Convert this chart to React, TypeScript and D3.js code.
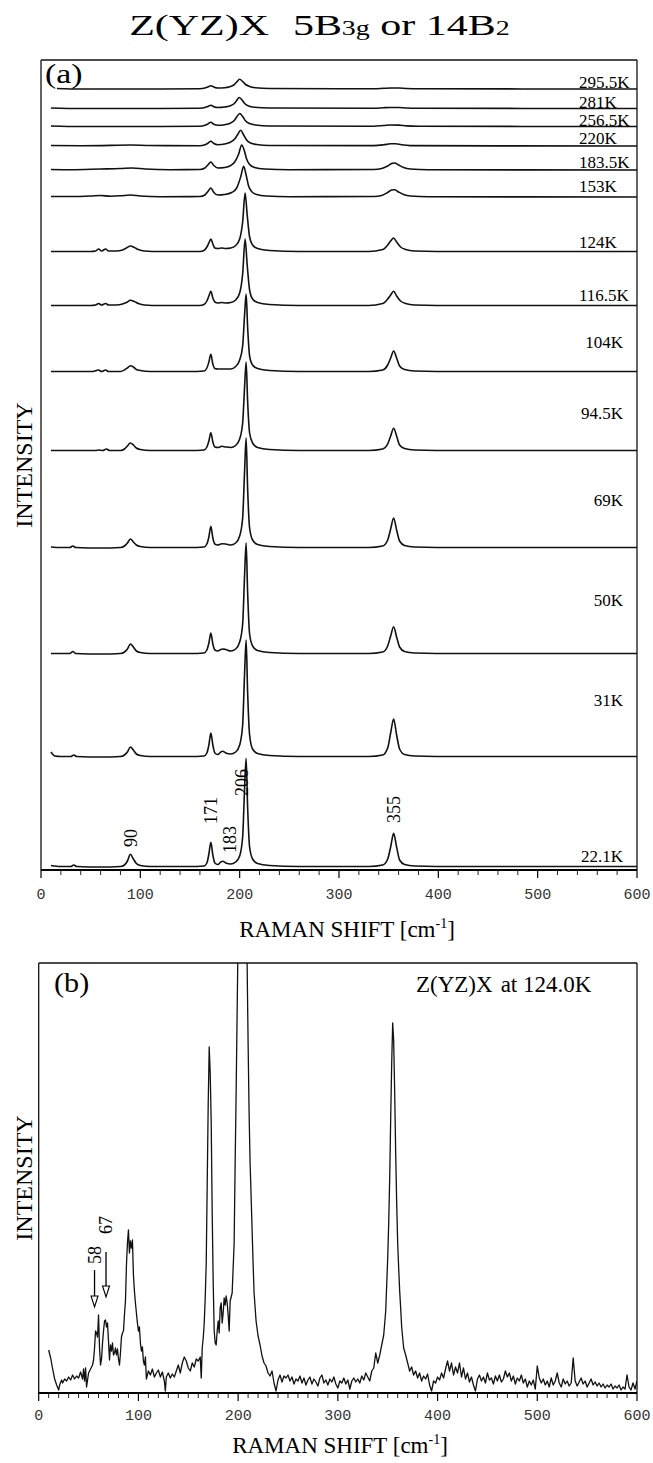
import React from "react";
import * as d3 from "d3";

type Pt = [number, number];

// ---------- Panel (a): temperature series ----------
const temperatureLabels = [
  "295.5K", "281K", "256.5K", "220K", "183.5K", "153K", "124K",
  "116.5K", "104K", "94.5K", "69K", "50K", "31K", "22.1K",
];
// vertical stacking offset of each spectrum (intensity units)
const traceOffsets = [781, 761.5, 743.5, 724, 700, 673, 618, 564, 498, 419, 322, 216, 113, 3];

// spectra as [Raman shift (cm-1), intensity above own offset]
const spec295_5K: Pt[] = [[16,0.5],[40,0],[80,0],[120,0],[160,0.3],[165,1],[168,2],[171,3.3],[174,2],[178,1],[185,1.3],[190,2.3],[194,4],[197,7],[200,9.7],[203,7.5],[206,4.5],[210,2.5],[216,1.3],[230,0.5],[300,0.3],[335,0.3],[345,0.7],[352,1],[360,1],[368,0.5],[380,0.2],[600,0]];
const spec281K: Pt[] = [[10,0.5],[40,0],[120,0],[160,0.3],[165,1],[168,2],[171,3.3],[174,1.8],[178,1],[185,1.5],[190,2.5],[194,4.5],[197,8],[199.5,11],[202,9],[205,5],[209,2.5],[215,1.3],[230,0.5],[335,0.3],[345,0.8],[352,1],[360,1],[368,0.5],[380,0.2],[600,0]];
const spec256_5K: Pt[] = [[10,0.5],[40,0],[120,0],[160,0.3],[165,1.2],[168,2.5],[171,4.3],[174,2.2],[178,1.2],[185,1.8],[190,3],[194,5.5],[197,9.5],[200,13],[203,10],[206,5.5],[210,3],[216,1.5],[230,0.5],[335,0.3],[345,1],[352,1.5],[360,1.4],[368,0.6],[380,0.2],[600,0]];
const spec220K: Pt[] = [[10,0.5],[40,0.3],[70,0.6],[90,1],[110,0.5],[160,0.3],[165,1.3],[168,2.8],[171,4.7],[174,2.5],[178,1.3],[185,2],[190,3.5],[195,7],[198,11.5],[201,15.7],[204,11],[207,6],[211,3],[217,1.5],[230,0.5],[335,0.4],[345,1.2],[352,2.2],[357,2.3],[363,1.2],[372,0.4],[600,0]];
const spec183_5K: Pt[] = [[10,0.5],[30,0.3],[60,1],[80,1.5],[92,2],[105,1],[130,0.3],[160,0.5],[165,2],[168,5],[171,8],[174,4.5],[178,2],[185,2.5],[191,4.5],[195,8],[199,16],[202,25],[204.5,20],[207,11],[210,5.5],[215,2.5],[225,1],[250,0.3],[335,0.5],[343,1.5],[349,4],[353,6.5],[356,7],[360,5],[365,2.5],[372,1],[390,0.3],[600,0]];
const spec153K: Pt[] = [[10,0.5],[30,0.5],[50,1],[60,1.5],[70,0.8],[80,1.2],[90,2],[100,1],[120,0.3],[160,0.5],[165,2],[168,5.5],[171,9],[174,4.5],[178,2],[185,2.5],[192,4.5],[197,9],[201,20],[204,30.7],[206.5,22],[209,11],[212,5.5],[217,2.5],[227,1],[250,0.3],[335,0.5],[343,1.5],[349,4.5],[353,7],[356,7.3],[360,5],[365,2.5],[372,1],[390,0.3],[600,0]];
const spec124K: Pt[] = [[10,0.5],[30,0.5],[50,0.5],[55,1],[58,3],[61,1],[65,3],[68,1],[76,1],[82,2],[86,4],[90,6],[94,4.5],[98,2.5],[104,1],[120,0.5],[160,0.5],[164,1.5],[167,5],[169,9],[171,13],[173,8],[175,4],[178,3.5],[182,4],[186,3.5],[191,4],[196,6.5],[200,13],[203,30],[205.5,59],[207.5,38],[210,15],[213,7],[218,3.5],[230,1.5],[260,0.5],[330,0.5],[344,2.5],[349,7],[352,11],[355,14],[358,10],[362,5],[367,2.5],[376,1],[420,0.5],[600,0.5]];
const spec116_5K: Pt[] = [[10,0.5],[30,0.5],[50,0.5],[55,1],[58,2.5],[61,1],[65,2.5],[68,1],[76,1],[82,2],[86,3.5],[90,5.7],[94,4.5],[98,2.5],[104,1],[120,0.5],[160,0.5],[164,1.5],[167,5],[169,10],[171,14.7],[173,8],[175,4],[178,3],[182,3.5],[186,3],[191,3.5],[196,6],[200,13],[203,32],[205.5,67],[207.5,42],[210,16],[213,7],[218,3.5],[230,1.5],[260,0.5],[330,0.5],[344,2.5],[349,7],[352,11],[355,14.7],[358,10],[362,5],[367,2.5],[376,1],[420,0.5],[600,0.5]];
const spec104K: Pt[] = [[10,0.5],[30,0.5],[52,0.5],[58,2],[61,0.5],[65,2],[68,0.5],[80,0.5],[84,2],[87,4],[90,6.3],[93,5],[96,2.5],[100,1.5],[110,0.5],[150,0.5],[164,1],[167,4],[169,10],[171,17.7],[173,8],[175,3.5],[178,3],[182,3],[186,3],[191,3],[196,5.5],[200,12],[203,26],[205,58],[206.5,78],[208,45],[210,16],[213,7],[218,3.5],[230,1.5],[260,0.5],[330,0.5],[344,2],[349,7],[352,14],[355,21],[358,14],[361,6],[366,2.5],[376,1],[420,0.5],[600,0.5]];
const spec94_5K: Pt[] = [[10,0.5],[30,0.5],[55,0.5],[58,1],[62,0.5],[66,2],[69,0.5],[80,0.5],[84,2],[87,5],[90,8],[93,6],[96,3],[100,1.5],[110,0.5],[150,0.5],[164,1],[167,4],[169,10],[171,18.3],[173,9],[175,4],[178,3.5],[182,4.7],[186,4],[191,3.5],[196,5.5],[200,12],[203,28],[205,65],[206.5,89],[208,50],[210,18],[213,8],[218,3.5],[230,1.5],[260,0.5],[330,0.5],[344,2],[349,7],[352,15],[355,22.7],[358,15],[361,6],[366,2.5],[376,1],[420,0.5],[600,0.5]];
const spec69K: Pt[] = [[10,1],[20,0.5],[29,0.5],[32,2],[35,0.5],[60,0],[80,0.5],[84,2],[87,5],[90,9],[93,6],[96,3],[100,1.5],[110,0.5],[150,0.5],[164,1],[167,4],[169,11],[171,21.7],[173,10],[175,4],[178,3],[181,4],[183,4.3],[186,4],[191,3],[196,5],[200,12],[203,30],[205,78],[206.5,110],[208,60],[210,20],[213,8],[218,3.5],[230,1.5],[260,0.5],[330,0.5],[344,2],[349,8],[352,19],[355,30],[358,18],[361,7],[366,2.5],[376,1],[420,0.5],[600,0.5]];
const spec50K: Pt[] = [[10,0.5],[20,0.5],[29,0.5],[32,2.5],[35,0.5],[60,0],[80,0.5],[84,2],[87,5],[90,10],[93,7],[96,3],[100,1.5],[110,0.5],[150,0.5],[164,1],[167,4],[169,11],[171,21],[173,10],[175,4],[178,3],[181,4.5],[183,5],[186,4.5],[191,3],[196,5],[200,12],[203,30],[205,80],[206.5,111],[208,62],[210,20],[213,8],[218,3.5],[230,1.5],[260,0.5],[330,0.5],[344,2],[349,8],[352,18],[355,27.3],[358,17],[361,7],[366,2.5],[376,1],[420,0.5],[600,0.5]];
const spec31K: Pt[] = [[10,5],[14,1],[20,0.5],[30,0.5],[33,2],[36,0.5],[60,0],[80,0.5],[84,2],[87,5],[90,10],[93,7],[96,3],[100,1.5],[110,0.5],[150,0.5],[164,1],[167,4],[169,12],[171,24],[173,12],[175,4],[178,2.5],[181,5],[183,5.7],[186,4],[191,3],[196,5],[200,12],[203,32],[205,85],[206.5,117],[208,65],[210,22],[213,8],[218,3.5],[230,1.5],[260,0.5],[330,0.5],[344,2],[349,9],[352,24],[355,38],[358,22],[361,8],[366,2.5],[376,1],[420,0.5],[600,0.5]];
const spec22_1K: Pt[] = [[10,1.5],[20,0.5],[30,0.5],[33,2],[36,0.5],[60,0],[80,0.5],[84,2],[87,6],[90,12.7],[93,8],[96,3.5],[100,1.5],[110,0.5],[150,0.5],[164,1],[167,4],[169,13],[171,24.7],[173,12],[175,4],[178,2.5],[181,5],[183,5.7],[186,4],[191,3],[196,5],[200,11],[203,30],[205,80],[206.5,108.7],[208,60],[210,20],[213,8],[218,3.5],[230,1.5],[260,0.5],[330,0.5],[344,2],[349,8],[352,20],[355,33.7],[358,20],[361,7],[366,2.5],[376,1],[420,0.5],[600,0.5]];

const spectraA: Pt[][] = [
  spec295_5K, spec281K, spec256_5K, spec220K, spec183_5K, spec153K, spec124K,
  spec116_5K, spec104K, spec94_5K, spec69K, spec50K, spec31K, spec22_1K,
];

// assigned mode frequencies marked on the lowest spectrum
const modeLabels = [90, 171, 183, 206, 355];

// ---------- Panel (b): single spectrum at 124.0 K ----------
const spec124K_detail: Pt[] = [
  [10,43],[12,35],[14,24],[16,14],[18,8],[20,3],[21,8],[23,13],[24,10],[26,14],[28,12],[30,16],[32,13],[34,18],[36,14],[38,17],[40,15],[42,21],[44,14],[45,24],[46,12],[47,25],[48,6],[50,20],[52,24],[54,28],[55,33],[56,45],[57,62],[58,60],[59,56],[60,78],[61,45],[62,28],[63,34],[64,50],[65,62],[66,72],[67,73],[68,66],[69,70],[70,52],[71,33],[72,48],[73,42],[74,50],[75,38],[76,40],[77,45],[78,38],[79,44],[80,34],[81,28],[82,40],[83,56],[84,60],[85,62],[86,78],[87,92],[88,128],[89,150],[90,163],[91,140],[92,152],[93,145],[94,153],[95,118],[96,102],[97,90],[98,80],[99,70],[100,62],[101,66],[102,50],[103,42],[104,46],[105,32],[106,28],[107,36],[108,14],[110,22],[112,18],[114,24],[116,16],[118,20],[120,23],[122,16],[124,21],[126,12],[127,2],[128,16],[130,20],[132,15],[134,19],[136,16],[138,22],[140,28],[142,20],[144,30],[146,36],[148,32],[150,25],[152,22],[154,30],[156,26],[158,34],[160,32],[162,36],[163,15],[164,45],[165,55],[166,70],[167,95],[168,130],[169,210],[170,290],[171,346],[172,320],[173,270],[174,180],[175,110],[176,62],[177,50],[178,48],[179,62],[180,72],[181,60],[182,85],[183,90],[184,70],[185,80],[186,95],[187,88],[188,97],[189,90],[190,78],[191,62],[192,92],[194,100],[196,150],[197,230],[198,300],[199,380],[200,460],[202,620],[204,800],[206,900],[207,820],[208,600],[209,430],[210,350],[211,280],[212,230],[213,197],[215,130],[216,100],[218,72],[220,57],[222,48],[224,37],[226,30],[228,27],[230,20],[232,17],[234,22],[236,10],[238,2],[240,13],[242,18],[244,11],[246,17],[248,15],
  [250,18],[252,12],[254,16],[256,9],[258,14],[260,12],[262,17],[264,10],[266,15],[268,8],[270,13],[272,16],[274,9],[276,14],[278,11],[280,7],[282,15],[284,18],[286,10],[288,13],[290,8],[292,14],[294,11],[296,16],[298,9],[300,5],[302,12],[304,10],[306,15],[308,9],[310,13],[312,4],[314,12],[316,15],[318,11],[320,14],[322,10],[324,17],[326,13],[328,20],[330,16],[332,12],[334,22],[336,25],[338,40],[340,30],[342,38],[344,48],[346,58],[348,82],[350,135],[351,170],[352,215],[353,275],[354,330],[355,370],[356,352],[357,300],[358,240],[359,190],[360,150],[361,125],[362,102],[363,85],[364,66],[366,45],[368,38],[370,30],[372,22],[374,26],[376,18],[378,22],[380,15],[382,20],[384,12],[386,17],[388,14],[390,19],[392,8],[394,2],[396,12],[398,10],[400,16],[402,13],[404,20],[406,15],[408,24],[410,32],[412,22],[414,30],[416,18],[418,26],[420,20],[422,30],[424,16],[426,25],[428,14],[430,20],[432,11],[434,16],[436,8],[438,2],[440,14],[442,18],[444,12],[446,16],[448,10],[450,20],[452,13],[454,15],[456,9],[458,17],[460,12],[462,18],[464,11],[466,14],[468,22],[470,16],[472,20],[474,12],[476,17],[478,9],[480,15],[482,12],[484,18],[486,10],[488,14],[490,6],[492,12],[494,8],[496,13],[498,4],[500,27],[502,15],[504,10],[506,14],[508,8],[510,12],[512,6],[514,15],[516,8],[518,12],[520,20],[522,10],[524,6],[526,14],[528,9],[530,12],[532,7],[534,10],[536,35],[538,12],[540,7],[542,11],[544,15],[546,9],[548,12],[550,6],[552,10],[554,14],[556,8],[558,11],[560,7],[562,10],[564,6],[566,9],[568,5],[570,8],[572,6],[574,9],[576,4],[578,7],[580,5],[582,8],[584,3],[586,6],[588,4],[590,18],[592,6],[594,3],[596,10],[598,4],[600,12],
];
// weak modes marked with arrows in panel (b)
const weakModes = [58, 67];

const xTicks = [0, 100, 200, 300, 400, 500, 600];

const SERIF = "'Liberation Serif', 'Times New Roman', serif";
const MONO = "'Liberation Mono', 'Courier New', monospace";

function XAxis({ x, y, minorStep, labelDy }: { x: d3.ScaleLinear<number, number>; y: number; minorStep: number; labelDy: number }) {
  const minor = d3.range(0, 601, minorStep).filter((v) => v % 100 !== 0);
  const [r0, r1] = x.range();
  return (
    <g>
      <line x1={r0} x2={r1} y1={y} y2={y} stroke="#000" strokeWidth={2} />
      {minor.map((v) => (
        <line key={"m" + v} x1={x(v)} x2={x(v)} y1={y} y2={y + 5} stroke="#222" strokeWidth={1} />
      ))}
      {xTicks.map((v) => (
        <g key={v}>
          <line x1={x(v)} x2={x(v)} y1={y} y2={y + 8} stroke="#000" strokeWidth={1.2} />
          <text x={x(v)} y={y + labelDy} textAnchor="middle" fontFamily={MONO} fontSize={15} fill="#333">
            {v}
          </text>
        </g>
      ))}
    </g>
  );
}

function XLabel({ cx, y }: { cx: number; y: number }) {
  return (
    <text x={cx} y={y} textAnchor="middle" fontFamily={SERIF} fontSize={23} fill="#000">
      RAMAN SHIFT [cm
      <tspan fontSize={14} dy={-9}>-1</tspan>
      <tspan dy={9}>]</tspan>
    </text>
  );
}

export default function App() {
  const W = 653;
  const H = 1463;

  // panel (a) geometry
  const aLeft = 41, aRight = 637, aTop = 60, aBottom = 870;
  const xA = d3.scaleLinear().domain([0, 600]).range([aLeft, aRight]);
  const yA = d3.scaleLinear().domain([0, aBottom - aTop]).range([aBottom, aTop]);

  // panel (b) geometry
  const bLeft = 38.7, bRight = 637, bTop = 963, bBottom = 1393;
  const xB = d3.scaleLinear().domain([0, 600]).range([bLeft, bRight]);
  const yB = d3.scaleLinear().domain([0, bBottom - bTop]).range([bBottom, bTop]);

  const lineA = (pts: Pt[], off: number) =>
    d3.line<Pt>()
      .x((d) => xA(d[0]))
      .y((d) => yA(off + d[1]))
      .curve(d3.curveMonotoneX)(pts) || "";

  const lineB = d3.line<Pt>()
    .x((d) => xB(d[0]))
    .y((d) => yB(d[1]))(spec124K_detail) || "";

  // how far each temperature label sits above its own trace (px)
  const labelLift = [1, 1, 1, 2, 2, 5, 4, 5, 24, 32, 42, 48, 51, 5];

  // mode-label layout: [dx from mode position, bottom y]
  const modeLayout: Record<number, [number, number]> = {
    90: [1, 847],
    171: [0, 824],
    183: [7, 853],
    206: [-4, 796],
    355: [0, 823],
  };

  // arrow layout for the weak modes: [dx, label bottom y, shaft top y, tip y]
  const arrowLayout: Record<number, [number, number, number, number]> = {
    58: [-2, 1264, 1270, 1307],
    67: [0.5, 1234, 1252, 1297],
  };

  return (
    <svg width={W} height={H} viewBox={`0 0 ${W} ${H}`}
      style={{ position: "absolute", left: 0, top: 0, display: "block", background: "#fff" }}>
      <defs>
        <clipPath id="clipB">
          <rect x={bLeft} y={bTop} width={bRight - bLeft} height={bBottom - bTop} />
        </clipPath>
      </defs>

      {/* Title */}
      <g transform="translate(319.5,35) scale(1.4,1)">
        <text x={0} y={0} textAnchor="middle" fontFamily={SERIF} fontSize={30} fill="#000">
          Z(YZ)X
          <tspan dx={17}>5B</tspan>
          <tspan fontSize={20}>3g</tspan>
          <tspan> or 14B</tspan>
          <tspan fontSize={20}>2</tspan>
        </text>
      </g>

      {/* ---------- Panel (a) ---------- */}
      <g>
        <line x1={aLeft} x2={aRight} y1={aTop} y2={aTop} stroke="#111" strokeWidth={1.3} />
        <line x1={aLeft} x2={aLeft} y1={aTop} y2={aBottom} stroke="#111" strokeWidth={1.3} />
        <line x1={aRight} x2={aRight} y1={aTop} y2={aBottom} stroke="#111" strokeWidth={1.3} />
        <g transform="translate(45,83) scale(1.25,1)">
          <text x={0} y={0} fontFamily={SERIF} fontSize={27} fill="#000">(a)</text>
        </g>

        {spectraA.map((pts, i) => (
          <path key={i} d={lineA(pts, traceOffsets[i])} fill="none" stroke="#111" strokeWidth={1.6} strokeLinejoin="round" />
        ))}

        {temperatureLabels.map((t, i) => {
          const yBase = yA(traceOffsets[i]) - labelLift[i];
          const upper = i < 8;
          return (
            <text key={t} x={upper ? 579 : 623} y={yBase} textAnchor={upper ? "start" : "end"}
              fontFamily={SERIF} fontSize={17} fill="#000">
              {t}
            </text>
          );
        })}

        {modeLabels.map((m) => {
          const [dx, yb] = modeLayout[m];
          const cx = xA(m) + dx;
          return (
            <text key={m} transform={`translate(${cx + 6},${yb}) rotate(-90)`}
              fontFamily={SERIF} fontSize={18} fill="#000">
              {m}
            </text>
          );
        })}

        <XAxis x={xA} y={aBottom} minorStep={20} labelDy={29} />
        <XLabel cx={347} y={937} />
        <text transform={`translate(32,${(aTop + aBottom) / 2}) rotate(-90)`} textAnchor="middle"
          fontFamily={SERIF} fontSize={24} fill="#000">INTENSITY</text>
      </g>

      {/* ---------- Panel (b) ---------- */}
      <g>
        <line x1={bLeft} x2={bRight} y1={bTop} y2={bTop} stroke="#111" strokeWidth={1.3} />
        <line x1={bLeft} x2={bLeft} y1={bTop} y2={bBottom} stroke="#111" strokeWidth={1.3} />
        <line x1={bRight} x2={bRight} y1={bTop} y2={bBottom} stroke="#111" strokeWidth={1.3} />
        <g transform="translate(54,992) scale(1.12,1)">
          <text x={0} y={0} fontFamily={SERIF} fontSize={27} fill="#000">(b)</text>
        </g>
        <text x={416} y={992} fontFamily={SERIF} fontSize={23} fill="#000">
          Z(YZ)X<tspan dx={8}>at 124.0K</tspan>
        </text>

        <path d={lineB} fill="none" stroke="#111" strokeWidth={1.3} strokeLinejoin="round" clipPath="url(#clipB)" />

        {weakModes.map((m) => {
          const [dx, labelY, topY, tipY] = arrowLayout[m];
          const x = xB(m) + dx;
          return (
            <g key={m}>
              <line x1={x} x2={x} y1={topY} y2={tipY - 10} stroke="#000" strokeWidth={1.3} />
              <path d={`M${x - 3.5},${tipY - 11} L${x + 3.5},${tipY - 11} L${x},${tipY} Z`} fill="#fff" stroke="#000" strokeWidth={1.1} />
              <text transform={`translate(${x + 6},${labelY}) rotate(-90)`} fontFamily={SERIF} fontSize={18} fill="#000">
                {m}
              </text>
            </g>
          );
        })}

        <XAxis x={xB} y={bBottom} minorStep={10} labelDy={27} />
        <XLabel cx={340} y={1453} />
        <text transform={`translate(32,${(bTop + bBottom) / 2}) rotate(-90)`} textAnchor="middle"
          fontFamily={SERIF} fontSize={24} fill="#000">INTENSITY</text>
      </g>
    </svg>
  );
}
